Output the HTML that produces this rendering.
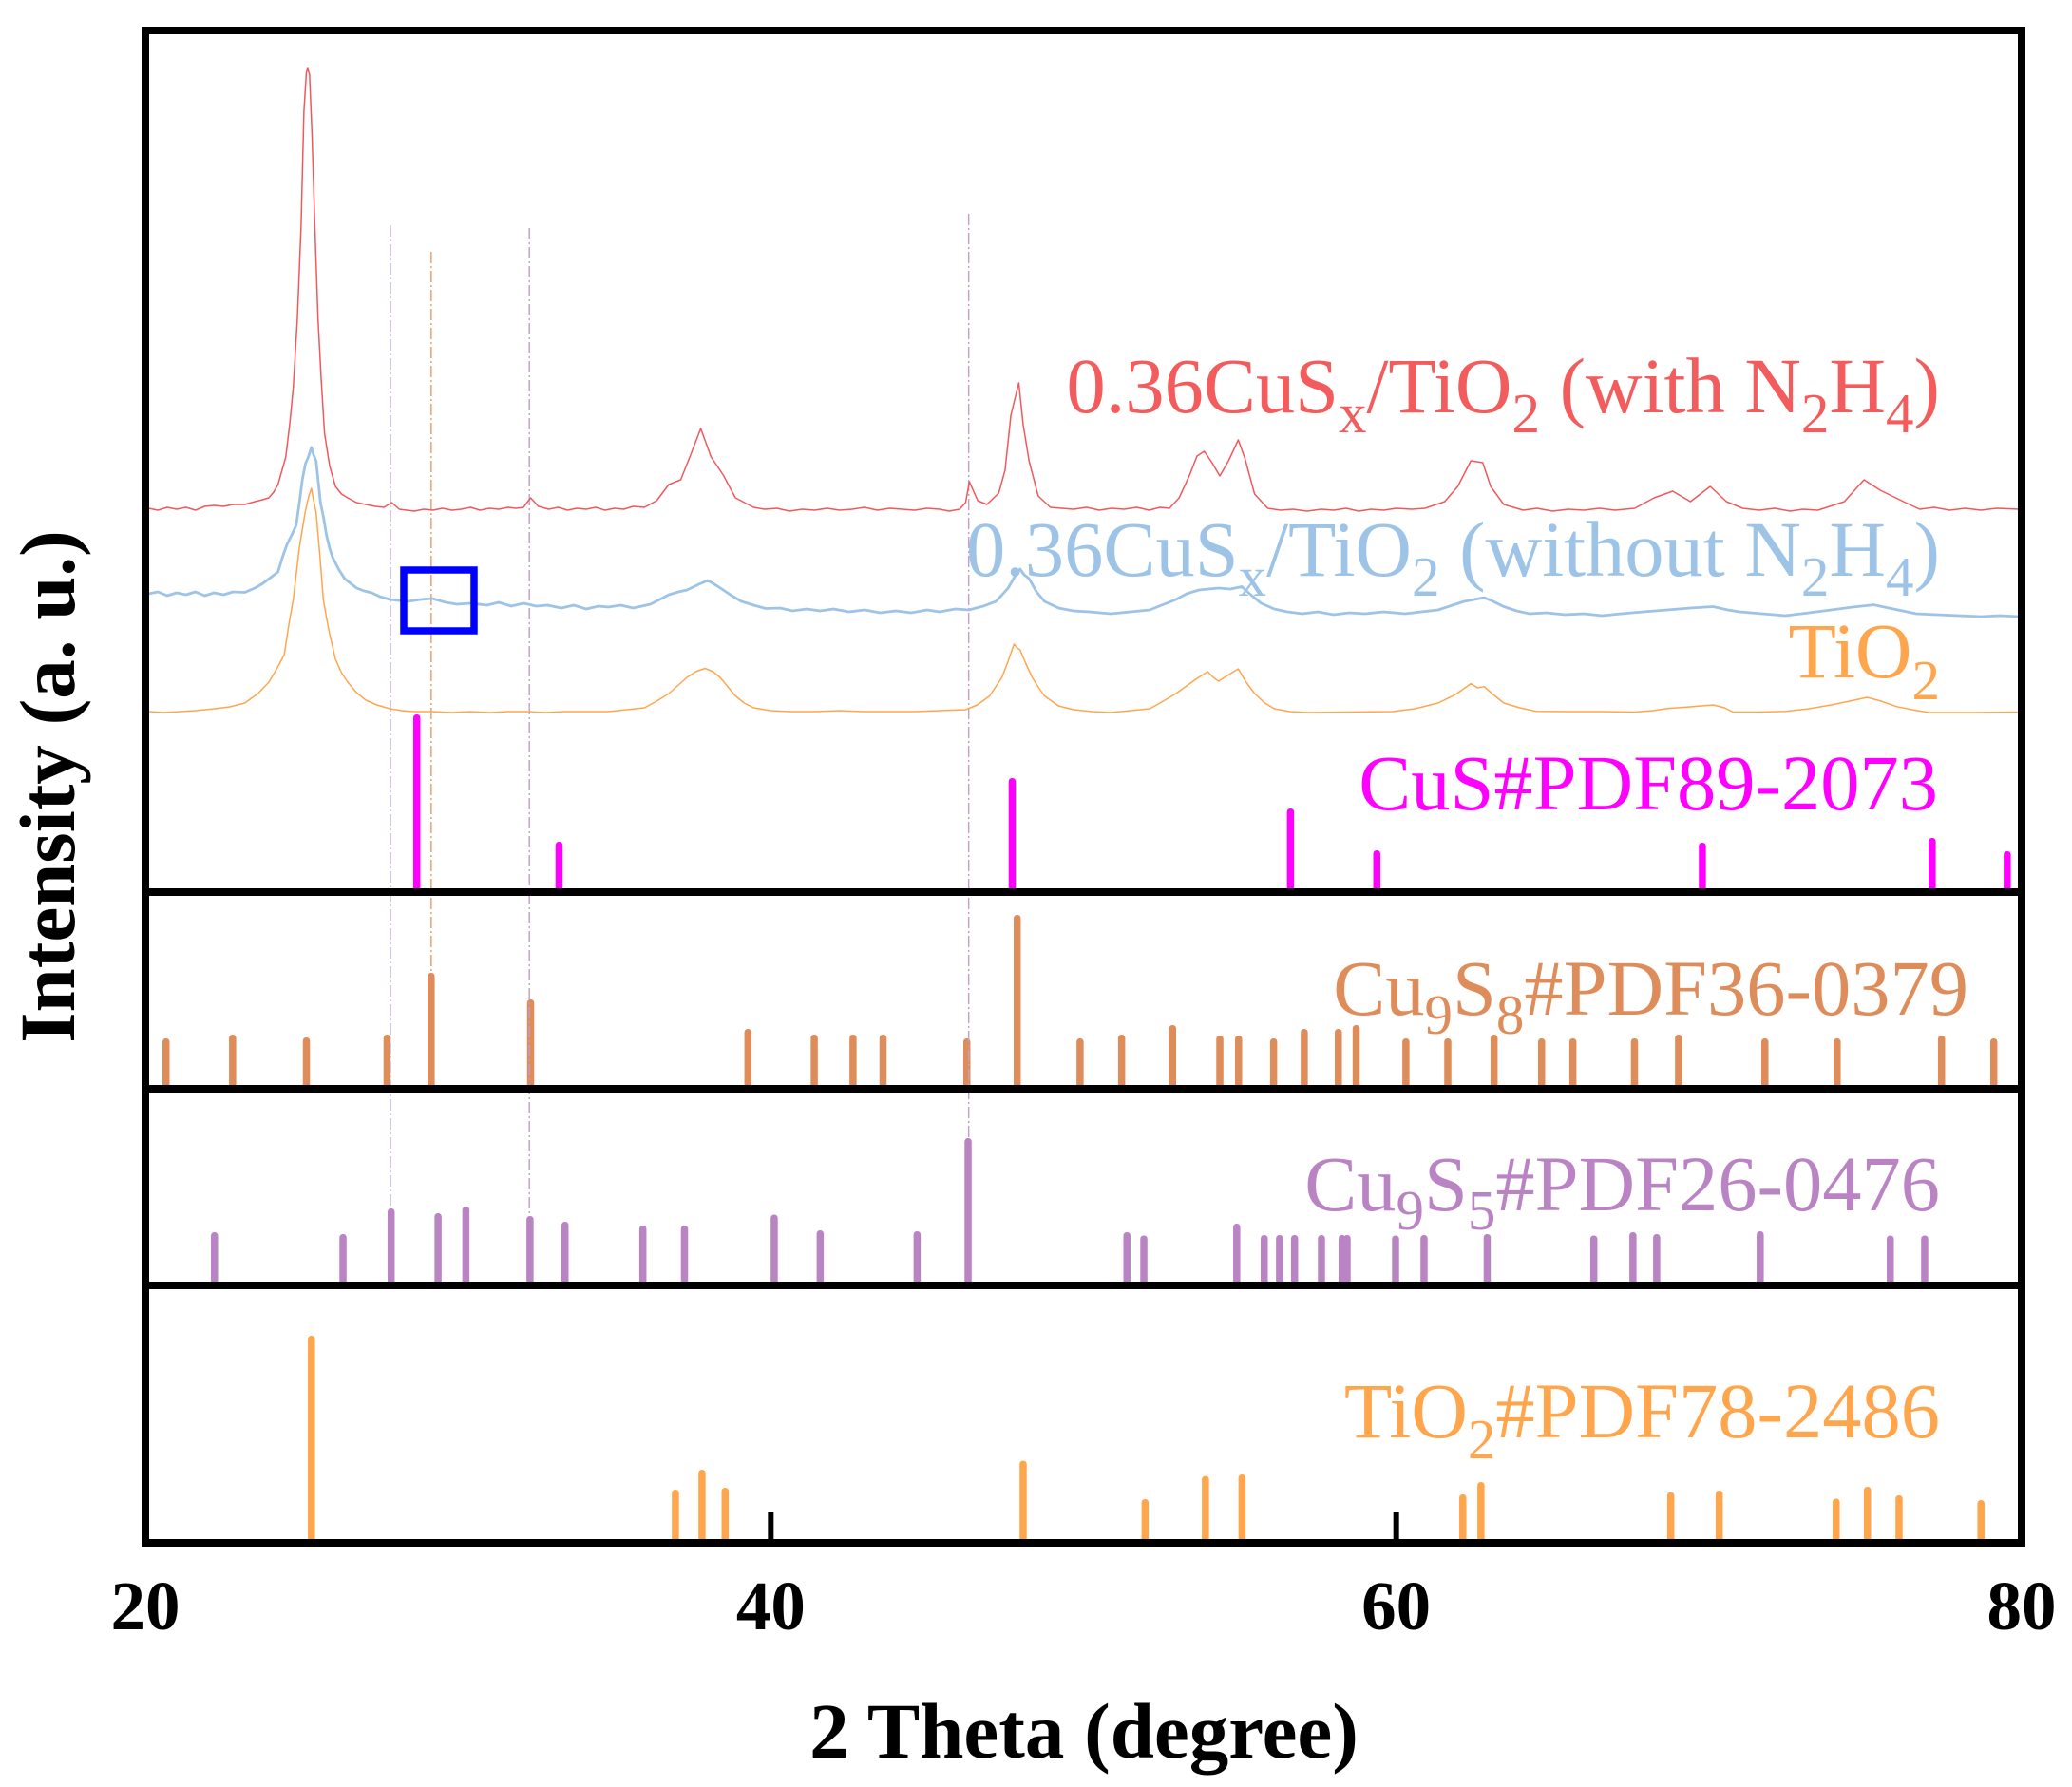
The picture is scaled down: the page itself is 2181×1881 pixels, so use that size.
<!DOCTYPE html>
<html lang="en">
<head>
<meta charset="utf-8">
<title>XRD patterns of CuSx/TiO2</title>
<style>
html,body{margin:0;padding:0;background:#fff;width:2181px;height:1881px;overflow:hidden}
svg{display:block;font-family:"Liberation Serif",serif}
.lab{font-size:82.5px;text-anchor:end}
.tick{font-size:73px;font-weight:bold;text-anchor:middle;fill:#000}
.title{font-size:83px;font-weight:bold;fill:#000;text-anchor:middle}
</style>
</head>
<body>
<svg id="chart" xmlns="http://www.w3.org/2000/svg" width="2181" height="1881" viewBox="0 0 2181 1881">
  <rect x="0" y="0" width="2181" height="1881" fill="#fff"/>
  <g id="sticks"></g>
  <g id="guides"></g>
  <g id="curves"></g>
  <g id="frame"></g>
  <rect x="425" y="600" width="74" height="64" fill="none" stroke="#0000ff" stroke-width="7.5"/>

  <text class="lab" x="2042" y="434" fill="#f25c5c">0.36CuS<tspan dy="21" font-size="59">x</tspan><tspan dy="-21">/TiO</tspan><tspan dy="21" font-size="59">2</tspan><tspan dy="-21"> (with N</tspan><tspan dy="21" font-size="59">2</tspan><tspan dy="-21">H</tspan><tspan dy="21" font-size="59">4</tspan><tspan dy="-21">)</tspan></text>
  <text class="lab" x="2042" y="606" fill="#9dc3e6">0.36CuS<tspan dy="21" font-size="59">x</tspan><tspan dy="-21">/TiO</tspan><tspan dy="21" font-size="59">2</tspan><tspan dy="-21"> (without N</tspan><tspan dy="21" font-size="59">2</tspan><tspan dy="-21">H</tspan><tspan dy="21" font-size="59">4</tspan><tspan dy="-21">)</tspan></text>
  <text class="lab" x="2042" y="713" fill="#ffa64d">TiO<tspan dy="23" font-size="59">2</tspan></text>
  <text class="lab" x="2040" y="852" fill="#ff00ff">CuS#PDF89-2073</text>
  <text class="lab" x="2072" y="1068" fill="#de8c5a">Cu<tspan dy="20" font-size="59">9</tspan><tspan dy="-20">S</tspan><tspan dy="20" font-size="59">8</tspan><tspan dy="-20">#PDF36-0379</tspan></text>
  <text class="lab" x="2042" y="1274" fill="#b983c4">Cu<tspan dy="20" font-size="59">9</tspan><tspan dy="-20">S</tspan><tspan dy="20" font-size="59">5</tspan><tspan dy="-20">#PDF26-0476</tspan></text>
  <text class="lab" x="2042" y="1513" fill="#ffa64d">TiO<tspan dy="22" font-size="59">2</tspan><tspan dy="-22">#PDF78-2486</tspan></text>

  <g id="tickLabels"></g>
  <text class="title" x="1141" y="1850">2 Theta (degree)</text>
  <text class="title" transform="translate(78,828) rotate(-90)" x="0" y="0">Intensity (a. u.)</text>
</svg>
<script>
/* ---------- chart data ---------- */
const xTicks = [20, 40, 60, 80];

const redTheta = [20.1,20.4,20.7,21.0,21.3,21.6,21.9,22.2,22.5,22.8,23.18,23.5,23.75,23.95,24.1,24.24,24.37,24.49,24.62,24.73,24.86,24.98,25.07,25.15,25.19,25.25,25.33,25.42,25.52,25.62,25.73,25.89,26.08,26.27,26.47,26.75,27.05,27.35,27.63,27.88,28.12,28.35,28.6,28.9,29.2,29.5,29.8,30.1,30.4,30.7,31.0,31.3,31.6,31.85,32.09,32.32,32.57,32.9,33.2,33.5,33.8,34.1,34.4,34.7,35.0,35.3,35.6,35.96,36.35,36.74,37.12,37.41,37.76,38.09,38.48,38.87,39.45,39.8,40.2,40.6,41.0,41.4,41.8,42.2,42.6,43.0,43.4,43.8,44.2,44.6,45.0,45.4,45.7,46.04,46.23,46.35,46.62,46.91,47.29,47.49,47.68,47.93,48.07,48.26,48.55,48.94,49.3,49.68,50.1,50.5,50.9,51.3,51.7,52.1,52.45,52.75,53.06,53.38,53.63,53.86,54.11,54.36,54.64,54.95,55.16,55.47,55.89,56.3,56.7,57.15,57.6,58.0,58.4,58.8,59.2,59.6,60.0,60.5,60.92,61.55,61.97,62.39,62.77,63.02,63.44,64.06,64.5,65.0,65.5,66.0,66.5,67.0,67.63,68.25,68.84,69.41,70.04,70.56,71.08,71.6,72.1,72.6,73.0,73.49,74.33,74.96,75.48,76.22,76.74,77.2,77.7,78.2,78.7,79.2,79.92];
const redIntensity = [400,398,401,399,401,398,402,403,402,404,404,407,409,411,417,425,440,454,490,527,600,697,818,859,863,857,794,697,600,537,479,445,423,415,411,406,404,402,401,406,399,398,397,399,398,400,398,399,401,398,400,399,401,400,401,411,402,399,401,398,400,399,401,398,400,399,402,401,408,425,430,454,484,454,435,411,401,399,400,397,399,398,400,398,399,401,398,400,399,398,400,399,397,399,406,428,408,404,416,440,498,532,488,450,413,401,400,399,401,398,400,399,401,398,401,400,411,434,455,460,448,434,450,472,453,415,400,398,399,397,399,398,400,397,399,398,400,399,400,407,423,450,448,423,404,398,400,397,399,398,400,398,400,411,418,407,423,407,400,398,400,397,399,398,407,430,419,407,399,401,398,400,398,400,399];

const blueTheta = [20.1,20.4,20.7,21.0,21.3,21.6,21.9,22.2,22.5,22.8,23.18,23.5,23.76,24.0,24.24,24.4,24.53,24.68,24.82,24.92,25.02,25.12,25.21,25.31,25.38,25.46,25.53,25.6,25.7,25.79,25.89,25.99,26.18,26.37,26.56,26.76,27.0,27.24,27.5,27.82,28.1,28.41,28.8,29.18,29.6,29.96,30.4,30.92,31.3,31.7,32.1,32.5,32.86,33.3,33.7,34.1,34.5,34.8,35.2,35.6,36.15,36.45,36.74,37.05,37.32,37.7,37.99,38.25,38.48,38.75,39.06,39.45,39.84,40.3,40.7,41.15,41.58,42.0,42.5,43.0,43.5,44.0,44.49,45.0,45.4,45.9,46.33,46.8,47.2,47.4,47.59,47.8,47.97,48.1,48.26,48.5,48.75,49.2,49.68,50.2,50.87,51.5,52.12,52.5,52.96,53.3,53.69,54.0,54.32,54.7,55.06,55.35,55.68,56.1,56.52,57.0,57.5,58.0,58.5,59.0,59.6,60.29,60.8,61.34,61.8,62.18,62.5,62.81,63.1,63.44,63.85,64.27,64.8,65.4,66.0,66.58,67.2,67.9,68.67,69.4,70.14,70.6,70.98,71.7,72.45,73.2,73.91,74.6,75.27,75.9,76.63,77.3,78.0,78.7,79.3,79.92];
const blueIntensity = [310,312,308,311,309,312,308,311,309,312,311.5,316,321,327,333,350,362,372,382,405,430,447,454,464,456,450,428,406,390,372,358,348,336,326,321,316,313,311,307,304,303,302,304,305,301,299,300,298,301,297,300,297,298,295,298,294,297,296,298,295,299,304,309,312,314,320,324,319,314,308,302,298,294.5,295,292,294,292,294,291,293,290,292,290,293,291,294,293,297,302,309,316,328,336,330,326,312,302,295,292,291,289,291,293,298,304,310,314,315,316,315,317.5,309,300,294,291,289,291,288,290,289,291,289,291,293,298,302,304,306,302,296.5,292,289,290,288,289,287,289,291,293,295,296.5,293,291,289,287,290,293,296,298.4,294,289,288,287,286,287,286];

const orangeTheta = [20.1,20.6,21.1,21.6,22.21,22.7,23.18,23.6,23.95,24.2,24.44,24.6,24.73,24.92,25.11,25.22,25.31,25.38,25.46,25.58,25.69,25.79,25.89,26.08,26.27,26.47,26.75,27.05,27.4,27.82,28.2,28.6,29.2,29.8,30.4,31.0,31.6,32.2,32.8,33.4,34.1,34.8,35.4,35.96,36.35,36.74,37.05,37.32,37.6,37.9,38.15,38.38,38.6,38.87,39.15,39.45,40.0,40.61,41.4,42.2,43.0,43.8,44.6,45.4,46.23,46.6,47.0,47.39,47.6,47.78,47.88,47.97,48.15,48.36,48.55,48.75,49.2,49.68,50.3,50.87,51.5,52.12,52.55,52.96,53.3,53.59,53.97,54.15,54.32,54.65,54.95,55.2,55.47,55.8,56.1,56.6,57.15,58.5,59.87,60.6,61.34,61.9,62.39,62.6,62.81,63.1,63.44,63.95,64.48,65.5,66.5,67.63,68.2,68.67,69.4,70.14,70.5,70.77,71.6,72.45,73.2,73.91,74.5,75.06,75.5,76.0,76.5,77.05,78.5,79.92];
const orangeIntensity = [186,185,186,187,189,191,195,205,217,231,246,280,304,358,396,412,421,408,396,350,304,285,268,241,227,217,206,198,193,189,187,186,186,185,186,185,186,186,185,186,186,186,188,190,197,205,214,222,228,231.5,228,222,213,202.5,195,190,187,186,186,187,186,186,186,187,188,193,202.5,222,240,257,253,251,237,222,212,202.5,192,188,186,185,187,189,197,205,213,220,228,222,218,225,231,217,205,195,189,186,185,185.5,186,189,195,204,215.4,211,212.3,204,195,190,186.3,186,186,185.5,187,189.3,191,193,190,185.5,185.5,186.3,189,193,197,201,197,191.3,188,185,185,185.5];

const cusTheta = [28.68,33.23,47.72,56.62,59.38,69.79,77.14,79.54];
const cusIntensity = [183,49,116,84,40,48,53,39];

const cu9s8Theta = [20.66,22.79,25.15,27.73,29.14,32.32,39.27,41.39,42.63,43.59,46.27,47.88,49.89,51.22,52.85,54.36,54.96,56.08,57.06,58.15,58.72,60.31,61.65,63.13,64.65,65.65,67.62,69.03,71.79,74.10,77.44,79.11];
const cu9s8Intensity = [49,53,50,53,118,90,59,53,53,53,49,179,49,53,63,52,52,49,59,59,63,49,49,53,49,49,49,53,49,49,52,49];

const cu9s5Theta = [22.21,26.32,27.86,29.36,30.25,32.30,33.42,35.91,37.24,40.11,41.58,44.68,46.31,51.39,51.93,54.90,55.78,56.27,56.75,57.61,58.27,58.43,59.98,60.89,62.91,66.32,67.57,68.33,71.64,75.80,76.90];
const cu9s5Intensity = [52,50,77,72,79,69,63,59,59,70.5,54,53,151,52,48.5,61,49,49,49,49,49,49,48.5,49,50,48.5,52,50,53,48.5,48.5];

const tio2Theta = [25.31,36.95,37.80,38.54,48.07,51.97,53.90,55.07,62.13,62.71,68.78,70.33,74.07,75.07,76.08,78.70];
const tio2Intensity = [214,52,73,54,82.4,42,66.4,68,47,60,49.3,51,42.5,55,46,41];

/* ---------- axes ---------- */
const NS = 'http://www.w3.org/2000/svg';
const xScale = t => 153 + (t - 20) * (2128 - 153) / 60;
const panelScale = base => v => base - v;
const yTopPanel = panelScale(935);
const yPanel2 = panelScale(1142);
const yPanel3 = panelScale(1349);
const yPanel4 = panelScale(1620);

function make(tag, attrs) {
  const el = document.createElementNS(NS, tag);
  for (const k in attrs) el.setAttribute(k, attrs[k]);
  return el;
}

/* ---------- reference sticks ---------- */
const sticksG = document.getElementById('sticks');
function drawSticks(thetas, values, yScale, color, name) {
  thetas.forEach((t, i) => {
    const top = yScale(values[i]);
    const base = yScale(0);
    const r = make('rect', {x: xScale(t) - 3.75, y: top, width: 7.5, height: base - top + 4, rx: 3.5, fill: color});
    
    
    sticksG.appendChild(r);
  });
}
drawSticks(cusTheta, cusIntensity, yTopPanel, '#ff00ff', 'cus-stick');
drawSticks(cu9s8Theta, cu9s8Intensity, yPanel2, '#de8c5a', 'cu9s8-stick');
drawSticks(cu9s5Theta, cu9s5Intensity, yPanel3, '#b983c4', 'cu9s5-stick');
drawSticks(tio2Theta, tio2Intensity, yPanel4, '#ffa64d', 'tio2-stick');

/* ---------- guide lines (annotation positions in 2-theta) ---------- */
const guideTheta = [27.84, 29.14, 32.28, 46.33];
const guideTopHeight = [698, 670, 695, 710];
const guideBottom = [1272, 1024, 1280, 1198];
const guideColor = ['#c9b6d2', '#e59a68', '#c49ccd', '#c49ccd'];
const guidesG = document.getElementById('guides');
guideTheta.forEach((t, i) => {
  const x = xScale(t);
  const l = make('line', {x1: x, x2: x, y1: yTopPanel(guideTopHeight[i]), y2: guideBottom[i], stroke: guideColor[i], 'stroke-width': 1.4, 'stroke-dasharray': '12 3 2 3'});
  
  
  guidesG.appendChild(l);
});

/* ---------- curves ---------- */
const curvesG = document.getElementById('curves');
function drawCurve(thetas, values, color, width, name) {
  const pts = thetas.map((t, i) => xScale(t).toFixed(1) + ',' + yTopPanel(values[i]).toFixed(1)).join(' ');
  const p = make('polyline', {points: pts, fill: 'none', stroke: color, 'stroke-width': width, 'stroke-linejoin': 'round'});
  
  
  curvesG.appendChild(p);
}
drawCurve(orangeTheta, orangeIntensity, '#ffa64d', 1.5, 'tio2-curve');
drawCurve(blueTheta, blueIntensity, '#9dc3e6', 2.8, 'cusx-tio2-without-n2h4-curve');
drawCurve(redTheta, redIntensity, '#f0585c', 1.5, 'cusx-tio2-with-n2h4-curve');

/* ---------- frame, dividers, ticks ---------- */
const frameG = document.getElementById('frame');
const dividerY = [939, 1146, 1353];
dividerY.forEach(y => {
  const d = make('line', {x1: 153, x2: 2128, y1: y, y2: y, stroke: '#000', 'stroke-width': 8});
  
  
  frameG.appendChild(d);
});
const border = make('rect', {x: 153, y: 32, width: 1975, height: 1592, fill: 'none', stroke: '#000', 'stroke-width': 8});


frameG.appendChild(border);

const labelsG = document.getElementById('tickLabels');
xTicks.forEach(v => {
  const x = xScale(v);
  const t = make('line', {x1: x, x2: x, y1: 1592, y2: 1624, stroke: '#000', 'stroke-width': 6});
  
  
  frameG.appendChild(t);
  const lab = make('text', {x: x, y: 1715, class: 'tick'});
  
  
  lab.textContent = v;
  labelsG.appendChild(lab);
});
</script>
</body>
</html>
